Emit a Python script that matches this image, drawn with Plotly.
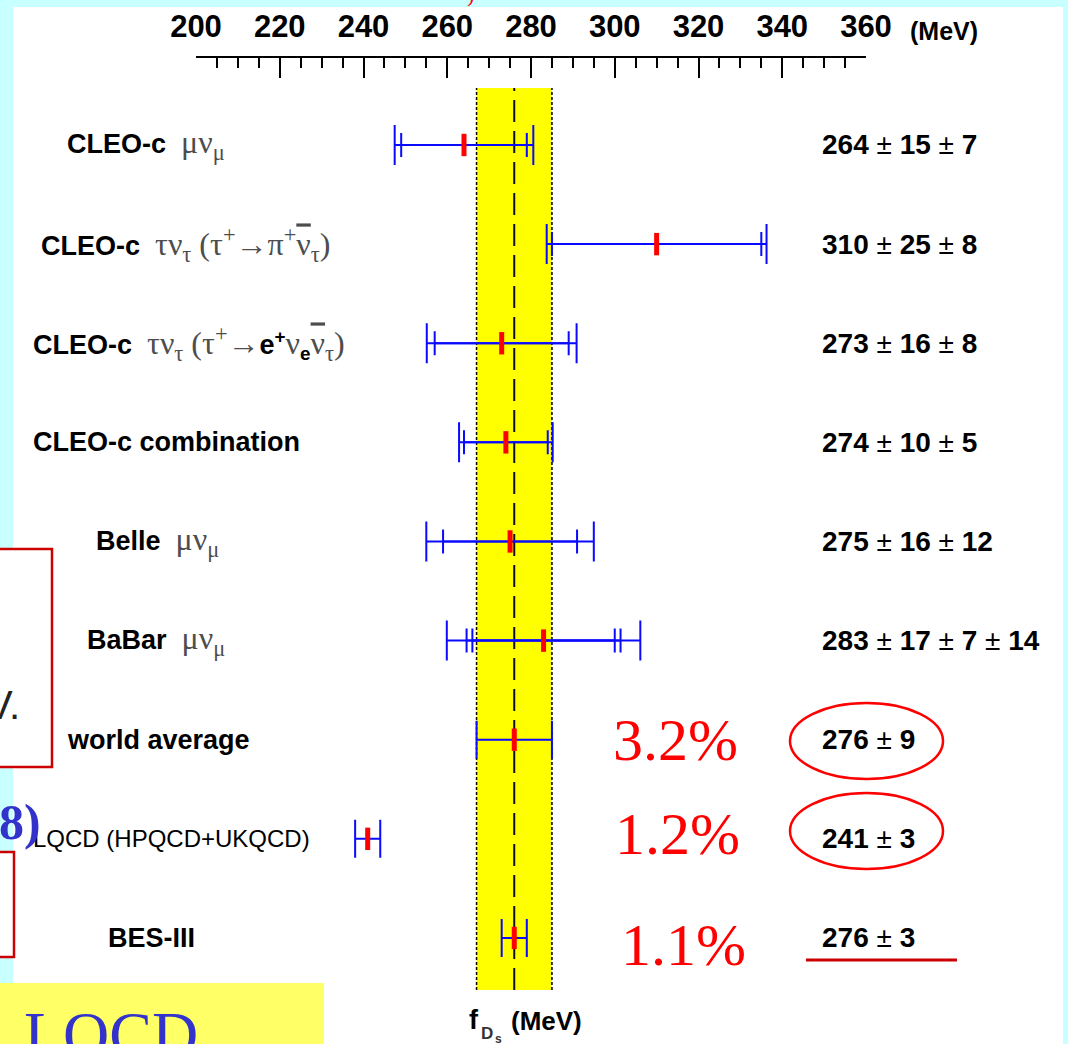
import plotly.graph_objects as go
import math

# ---------------- data ----------------
experiments = [
    "CLEO-c mu nu", "CLEO-c tau nu (pi)", "CLEO-c tau nu (e)", "CLEO-c combination",
    "Belle mu nu", "BaBar mu nu", "world average", "LQCD (HPQCD+UKQCD)", "BES-III",
]
central = [264, 310, 273, 274, 275, 283, 276, 241, 276]
stat_err = [15, 25, 16, 10, 16, 17, 9, 3, 3]
syst_err = [7, 8, 8, 5, 12, 7, None, None, None]
extra_err = [None, None, None, None, None, 14, None, None, None]
precision = ["3.2%", "1.2%", "1.1%"]          # for the last three rows
x_ticks = [200, 220, 240, 260, 280, 300, 320, 340, 360]

# ---------------- page geometry (pixels) ----------------
W, H = 1068, 1044
L, R, T, B = 196, 202, 57, 54
PW, PH = W - L - R, H - T - B
BAND_TOP, BAND_BOT = 88, 990


def fx(px):
    return (px - L) / PW


def fy(py):
    return 1 - (py - T) / PH


BLUE = "#0a0aff"
RED = "#ff0000"
DARKRED = "#cc0000"
CYAN = "#c8ffff"
SANS = "Liberation Sans"
SERIF = "Liberation Serif"

n = len(central)
# row positions: row index 0 at top
y_lo = -0.575
y_hi = 8.525

fig = go.Figure()

# error bars: innermost = stat, then cumulative quadrature sums
for i in range(n):
    errs = [stat_err[i]]
    acc = stat_err[i] ** 2
    for e in (syst_err[i], extra_err[i]):
        if e is not None:
            acc += e ** 2
            errs.append(math.sqrt(acc))
    for k, e in enumerate(errs):
        if len(errs) == 1:
            w = 19
        else:
            w = 20 if k == len(errs) - 1 else 12
        fig.add_trace(go.Scatter(
            x=[central[i]], y=[i], mode="markers",
            marker=dict(size=1, color="rgba(0,0,0,0)"),
            error_x=dict(type="data", array=[e], symmetric=True, width=w,
                         thickness=2, color=BLUE),
            showlegend=False, hoverinfo="skip", cliponaxis=False,
        ))

# central values
fig.add_trace(go.Scatter(
    x=central, y=list(range(n)), mode="markers",
    marker=dict(symbol="line-ns", size=16, color=RED, line=dict(width=5, color=RED)),
    showlegend=False, hoverinfo="skip", cliponaxis=False,
))

shapes = []
# slide background pieces
shapes.append(dict(type="rect", xref="paper", yref="paper", layer="below",
                   x0=fx(13), x1=fx(1063), y0=fy(H + 5), y1=fy(7),
                   fillcolor="white", line=dict(width=0)))
shapes.append(dict(type="rect", xref="paper", yref="paper", layer="below",
                   x0=fx(-5), x1=fx(52), y0=fy(767), y1=fy(549),
                   fillcolor="white", line=dict(width=2.5, color=DARKRED)))
shapes.append(dict(type="rect", xref="paper", yref="paper", layer="below",
                   x0=fx(-5), x1=fx(14), y0=fy(957), y1=fy(852),
                   fillcolor="white", line=dict(width=2.5, color=DARKRED)))
shapes.append(dict(type="rect", xref="paper", yref="paper", layer="below",
                   x0=fx(-5), x1=fx(324), y0=fy(H + 10), y1=fy(983),
                   fillcolor="#ffff66", line=dict(width=0)))

# world-average band
wa = central[6]
wa_err = stat_err[6]
shapes.append(dict(type="rect", xref="x", yref="y domain", layer="below",
                   x0=wa - wa_err, x1=wa + wa_err, y0=0, y1=1,
                   fillcolor="#ffff00", line=dict(width=0)))
for xv in (wa - wa_err, wa + wa_err):
    shapes.append(dict(type="line", xref="x", yref="y domain", layer="below",
                       x0=xv, x1=xv, y0=0, y1=1,
                       line=dict(color="black", width=1.5, dash="3px,2px")))
shapes.append(dict(type="line", xref="x", yref="y domain", layer="below",
                   x0=wa, x1=wa, y0=0, y1=1,
                   line=dict(color="#111111", width=2, dash="22px,9px")))

# red ellipses and underline
for (x0, x1, y0, y1) in [(790, 943, 703, 779), (790, 943, 793, 869)]:
    shapes.append(dict(type="circle", xref="paper", yref="paper",
                       x0=fx(x0), x1=fx(x1), y0=fy(y1), y1=fy(y0),
                       line=dict(color=RED, width=2.5)))
shapes.append(dict(type="line", xref="paper", yref="paper",
                   x0=fx(806), x1=fx(957), y0=fy(960), y1=fy(960),
                   line=dict(color=DARKRED, width=3)))

annotations = []

# left-hand labels
G = f"font-family:{SERIF};color:#4d4d4d;font-weight:normal;font-size:32px"
OV = "text-decoration:overline;text-decoration-thickness:3px"
NB = "\u00a0"


def greek(s):
    return f'<span style="{G}">{s}</span>'


labels = [
    "<b>CLEO-c</b>" + NB * 2 + greek("μν<sub>μ</sub>"),
    "<b>CLEO-c</b>" + NB * 2 + greek(f'τν<sub>τ</sub>{NB}(τ<sup>+</sup>→π<sup>+</sup>'
                                     f'<span style="{OV}">ν</span><sub>τ</sub>)'),
    "<b>CLEO-c</b>" + NB * 2 + greek(f"τν<sub>τ</sub>{NB}(τ<sup>+</sup>→")
    + "<b>e<sup>+</sup></b>" + greek("ν") + "<b><sub>e</sub></b>"
    + greek(f'<span style="{OV}">ν</span><sub>τ</sub>)'),
    "<b>CLEO-c combination</b>",
    "<b>Belle</b>" + NB * 2 + greek("μν<sub>μ</sub>"),
    "<b>BaBar</b>" + NB * 2 + greek("μν<sub>μ</sub>"),
    "<b>world average</b>",
    "LQCD (HPQCD+UKQCD)",
    "<b>BES-III</b>",
]
label_left = [68, 42, 34, 34, 97, 88, 68, 34, 109]
for i, txt in enumerate(labels):
    annotations.append(dict(
        text=txt, xref="paper", yref="y", x=fx(label_left[i] - 3), y=i,
        xanchor="left", yanchor="middle", showarrow=False,
        font=dict(family=SANS, size=24 if i == 7 else 27, color="black"),
    ))

# right-hand value labels
for i in range(n):
    parts = [central[i], stat_err[i]] + [e for e in (syst_err[i], extra_err[i]) if e is not None]
    txt = f"<b>{parts[0]}</b>" + "".join(f" ± <b>{p}</b>" for p in parts[1:])
    annotations.append(dict(
        text=txt, xref="paper", yref="y", x=fx(820), y=i,
        xanchor="left", yanchor="middle", showarrow=False,
        font=dict(family=SANS, size=28, color="black"),
    ))

# relative precision
pct_x = [675, 677, 683]
pct_shift = [0, 5, -7]
for k, p in enumerate(precision):
    annotations.append(dict(
        text=p, xref="paper", yref="y", x=fx(pct_x[k]), y=n - 3 + k, yshift=pct_shift[k],
        xanchor="center", yanchor="middle", showarrow=False,
        font=dict(family=SERIF, size=60, color=RED),
    ))

# axis unit and x-axis title
annotations.append(dict(text="<b>(MeV)</b>", xref="paper", yref="paper",
                        x=fx(908), y=fy(31), xanchor="left", yanchor="middle",
                        showarrow=False, font=dict(family=SANS, size=25, color="black")))
annotations.append(dict(text="<b>f</b>", xref="paper", yref="paper",
                        x=fx(467), y=fy(1020), xanchor="left", yanchor="middle",
                        showarrow=False, font=dict(family=SANS, size=27, color="black")))
annotations.append(dict(text="<b>D</b>", xref="paper", yref="paper",
                        x=fx(479), y=fy(1033), xanchor="left", yanchor="middle",
                        showarrow=False, font=dict(family=SANS, size=17, color="#333333")))
annotations.append(dict(text="<b>s</b>", xref="paper", yref="paper",
                        x=fx(493), y=fy(1039), xanchor="left", yanchor="middle",
                        showarrow=False, font=dict(family=SANS, size=12, color="#333333")))
annotations.append(dict(text="<b>(MeV)</b>", xref="paper", yref="paper",
                        x=fx(509), y=fy(1021), xanchor="left", yanchor="middle",
                        showarrow=False, font=dict(family=SANS, size=26, color="black")))

# slide fragments around the figure
annotations.append(dict(text="<b>8)</b>", xref="paper", yref="paper",
                        x=fx(43), y=fy(822), xanchor="right", yanchor="middle",
                        showarrow=False, font=dict(family=SERIF, size=50, color="#3333cc")))
annotations.append(dict(text="V.", xref="paper", yref="paper",
                        x=fx(22), y=fy(705), xanchor="right", yanchor="middle",
                        showarrow=False, font=dict(family=SANS, size=40, color="#222222")))
annotations.append(dict(text="LQCD", xref="paper", yref="paper",
                        x=fx(22), y=fy(1034), xanchor="left", yanchor="middle",
                        showarrow=False, font=dict(family=SERIF, size=64, color="#3333cc")))
annotations.append(dict(text=")", xref="paper", yref="paper",
                        x=fx(470), y=fy(-6), xanchor="center", yanchor="middle",
                        showarrow=False, font=dict(family=SERIF, size=22, color=RED)))

fig.update_layout(
    width=W, height=H,
    margin=dict(l=L, r=R, t=T, b=B, pad=0, autoexpand=False),
    paper_bgcolor=CYAN,
    plot_bgcolor="rgba(0,0,0,0)",
    shapes=shapes,
    annotations=annotations,
    xaxis=dict(
        range=[200, 360], side="top", anchor="free", position=1,
        automargin=False,
        tickvals=x_ticks, ticktext=[str(v) for v in x_ticks],
        ticks="inside", ticklen=20, tickwidth=1.5, tickcolor="black",
        minor=dict(dtick=5, tick0=200, ticks="inside", ticklen=10, tickwidth=1.5,
                   tickcolor="black", showgrid=False),
        showline=True, linecolor="black", linewidth=2,
        showgrid=False, zeroline=False,
        tickfont=dict(family=SANS, size=31, color="black", weight="bold"),
        ticklabelstandoff=7,
        fixedrange=True,
    ),
    yaxis=dict(
        range=[y_hi, y_lo], domain=[0, (BAND_BOT - BAND_TOP) / PH],
        automargin=False,
        visible=False, showgrid=False, zeroline=False, fixedrange=True,
    ),
)

fig.write_html("out.html")
